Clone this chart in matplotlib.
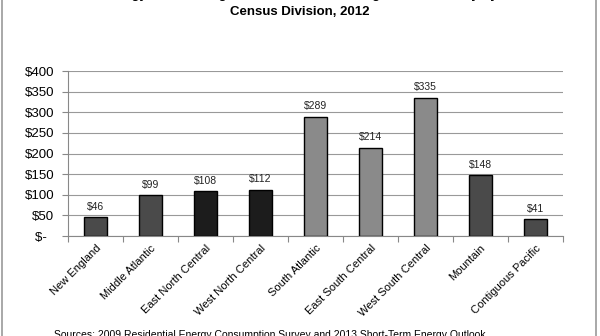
import matplotlib.pyplot as plt
from matplotlib.patches import Rectangle

plt.rcParams['font.family'] = ['Liberation Sans', 'DejaVu Sans']

divisions = ['New England', 'Middle Atlantic', 'East North Central', 'West North Central',
             'South Atlantic', 'East South Central', 'West South Central', 'Mountain',
             'Contiguous Pacific']
savings = [46, 99, 108, 112, 289, 214, 335, 148, 41]
colors = ['#4a4a4a', '#4a4a4a', '#1c1c1c', '#1c1c1c', '#8a8a8a', '#8a8a8a', '#8a8a8a',
          '#4a4a4a', '#4a4a4a']
yticks = [0, 50, 100, 150, 200, 250, 300, 350, 400]
ytick_labels = ['$-  ', '$50', '$100', '$150', '$200', '$250', '$300', '$350', '$400']

fig = plt.figure(figsize=(6, 3.36), dpi=100)
ax = fig.add_axes([0.1133, 0.2976, 0.825, 0.491])

x = range(len(divisions))
ax.bar(x, savings, width=0.42, color=colors, edgecolor='black', linewidth=1, zorder=3)
for i, v in enumerate(savings):
    ax.text(i, v + 13, '$' + str(v), ha='center', va='bottom', fontsize=7.5, color='#222222')

ax.set_xlim(-0.5, len(divisions) - 0.5)
ax.set_ylim(0, 400)
ax.set_yticks(yticks)
ax.set_yticklabels(ytick_labels, fontsize=9.5)
ax.yaxis.grid(True, color='#999999', linewidth=0.8, zorder=0)

# category ticks sit between bars, labels under the bars
ax.set_xticks([i + 0.5 for i in range(-1, len(divisions))])
ax.set_xticklabels([])
ax.set_xticks(list(x), minor=True)
ax.set_xticklabels(divisions, minor=True, rotation=45, ha='right', rotation_mode='anchor',
                   fontsize=8)
ax.tick_params(axis='x', which='minor', length=0, pad=5)
ax.tick_params(axis='x', which='major', length=4, color='#888888')
ax.tick_params(axis='y', length=4, color='#888888', pad=6)

for s in ['top', 'right']:
    ax.spines[s].set_visible(False)
ax.spines['left'].set_color('#888888')
ax.spines['bottom'].set_color('#888888')

fig.text(0.5, 1.014, 'Energy Cost Savings of Natural Gas Heating over Electricity by',
         ha='center', va='center', fontsize=9.5, fontweight='bold')
fig.text(0.5, 0.964, 'Census Division, 2012', ha='center', va='center',
         fontsize=9.5, fontweight='bold')
fig.text(0.09, 0.018, 'Sources: 2009 Residential Energy Consumption Survey and 2013 Short-Term Energy Outlook',
         ha='left', va='top', fontsize=7.5)

fig.patches.append(Rectangle((0.004, -0.1), 0.99, 1.2, transform=fig.transFigure,
                             fill=False, edgecolor='#999999', linewidth=1.2))

fig.savefig('out.png', dpi=100)
